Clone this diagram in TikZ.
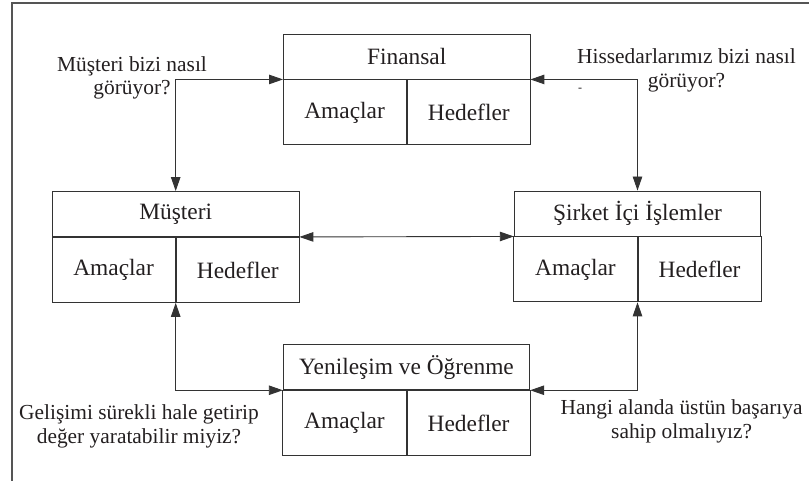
\documentclass[tikz,border=0pt]{standalone}
\usepackage{fontspec}
\setmainfont{Liberation Serif}
\usetikzlibrary{arrows.meta}
\newcommand\bxfont{\fontsize{23.4}{28}\selectfont}
\newcommand\lbfont{\fontsize{21.4}{23.5}\selectfont}
\definecolor{linec}{HTML}{333333}
\definecolor{textc}{HTML}{231F20}
\definecolor{framec}{HTML}{555555}
\begin{document}
\begin{tikzpicture}[x=1pt,y=-1pt,
  line width=0.9pt,
  title/.style={draw=linec, minimum width=246.5pt, minimum height=45pt, inner sep=0pt, font=\bxfont, text=textc},
  cell/.style={draw=linec, minimum width=123.25pt, minimum height=65pt, inner sep=0pt, font=\bxfont, text=textc},
  lab/.style={align=center, font=\lbfont, text=textc, inner sep=0pt},
  conn/.style={draw=linec, {Triangle[length=14pt,width=9.5pt]}-{Triangle[length=14pt,width=9.5pt]}}]
\useasboundingbox (0,0) rectangle (809,481);
\draw[framec, line width=1.4pt] (12,481) -- (12,3) -- (809,3);

% Finansal
\node[title] (Ft) at (406.7,56.5) {Finansal};
\node[cell, anchor=north east] (Fa) at (Ft.south) {Amaçlar};
\node[cell, anchor=north west] (Fh) at (Ft.south) {Hedefler};
% Musteri
\node[title] (Mt) at (175.7,214) {Müşteri};
\node[cell, anchor=north east] (Ma) at (Mt.south) {Amaçlar};
\node[cell, anchor=north west] (Mh) at (Mt.south) {Hedefler};
% Sirket
\node[title] (St) at (637.5,213.5) {Şirket İçi İşlemler};
\node[cell, anchor=north east] (Sa) at (St.south) {Amaçlar};
\node[cell, anchor=north west] (Sh) at (St.south) {Hedefler};
% Yenilesim
\node[title] (Yt) at (406.5,367.3) {Yenileşim ve Öğrenme};
\node[cell, anchor=north east] (Ya) at (Yt.south) {Amaçlar};
\node[cell, anchor=north west] (Yh) at (Yt.south) {Hedefler};

% connectors
\draw[conn] (Ft.south west) -| (Mt.north);
\draw[conn] (Ft.south east) -| (St.north);
\draw[conn] (Mt.south east) -- (St.south west);
\draw[conn] (Ma.south east) |- (Yt.south west);
\draw[conn] (Sa.south east) |- (Yt.south east);

% labels
\node[lab] (lm) at (132,78) {Müşteri bizi nasıl\\görüyor?};
\node[lab] (lh) at (686.5,70.5) {Hissedarlarımız bizi nasıl\\görüyor?};
\node[lab] (lg) at (139,426.5) {Gelişimi sürekli hale getirip\\değer yaratabilir miyiz?};
\node[lab] (ly) at (681.6,421.5) {Hangi alanda üstün başarıya\\sahip olmalıyız?};
\node[text=textc, font=\fontsize{12}{12}\selectfont, inner sep=0pt] (dash) at (580,90) {-};
\end{tikzpicture}
\end{document}
